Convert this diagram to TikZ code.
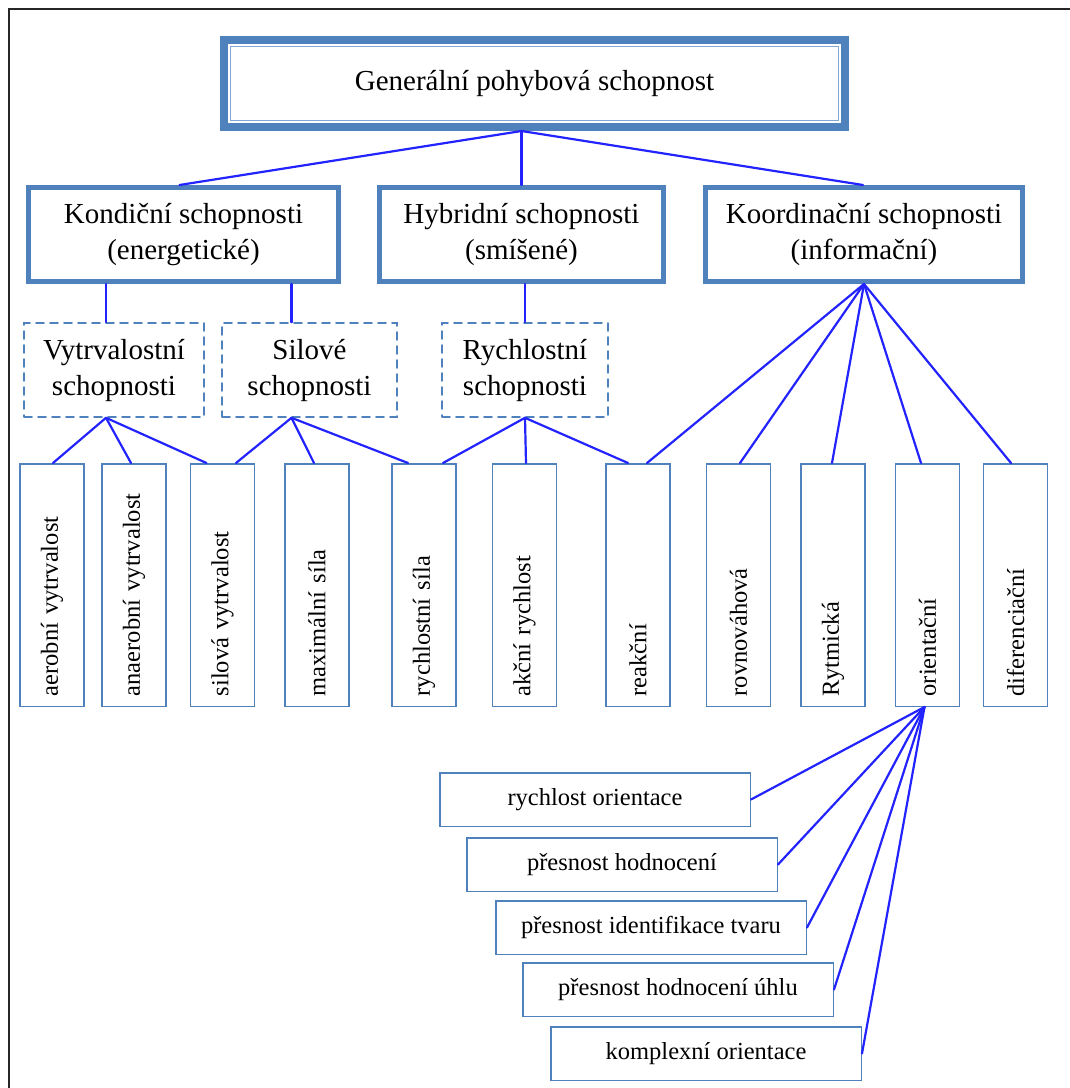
\documentclass[tikz,border=0pt]{standalone}
\usepackage{fontspec}
\setmainfont{Liberation Serif}

\newcommand{\boxfont}{\fontsize{29}{36}\selectfont}
\newcommand{\smallboxfont}{\fontsize{24.5}{30}\selectfont}

\begin{document}
\begin{tikzpicture}
			[x=1pt,y=-1pt,line cap=round,
			%Styles
			main box/.style={draw=boxblue,line width=8pt,minimum width=621pt,minimum height=87pt,inner sep=0pt,font=\boxfont},
			group box/.style={draw=boxblue,line width=5pt,minimum height=94pt,align=center,inner sep=0pt,font=\boxfont},
			ability box/.style={draw=boxblue,line width=1.6pt,dash pattern=on 8pt off 6pt,minimum height=94pt,align=center,inner sep=0pt,font=\boxfont},
			item box/.style={draw=boxblue,line width=1.5pt,rotate=90,minimum height=64pt,text width=222.5pt,inner xsep=10pt,inner ysep=0pt,align=left,font=\smallboxfont},
			detail box/.style={draw=boxblue,line width=1.5pt,minimum width=310.5pt,minimum height=53.5pt,inner sep=0pt,font=\smallboxfont},
			link/.style={draw=linkblue,line width=2.2pt}
			]
			
			%Colors
			\definecolor{boxblue}{RGB}{79,129,189}	%box frames
			\definecolor{linkblue}{RGB}{35,35,255}	%connectors
			
			\useasboundingbox (0,0) rectangle (1070,1088);
			\draw[line width=2.5pt,black!85,line cap=butt] (1070,9) -- (9,9) -- (9,1088);
			
			%The graphic
			\node[main box] (gen) at (534.5,83.5) {Generální pohybová schopnost};
			\draw[boxblue!70,line width=1.6pt] ([shift={(10.5pt,-10.5pt)}]gen.north west) rectangle ([shift={(-10.5pt,10.5pt)}]gen.south east);
			
			\node[group box,minimum width=310pt] (kond) at (183.5,234.5) {Kondiční schopnosti\\(energetické)};
			\node[group box,minimum width=284pt] (hybr) at (521.5,234.5) {Hybridní schopnosti\\(smíšené)};
			\node[group box,minimum width=317pt] (koord) at (864,234.5) {Koordinační schopnosti\\(informační)};
			
			\node[ability box,minimum width=180pt] (vytr) at (114,370) {Vytrvalostní\\schopnosti};
			\node[ability box,minimum width=175pt] (sil) at (309.5,370) {Silové\\schopnosti};
			\node[ability box,minimum width=166pt] (rychl) at (525,370) {Rychlostní\\schopnosti};
			
			\node[item box] (aer) at (52,585) {aerobní vytrvalost};
			\node[item box] (anaer) at (134,585) {anaerobní vytrvalost};
			\node[item box] (silvytr) at (222.5,585) {silová vytrvalost};
			\node[item box] (maxsil) at (317,585) {maximální síla};
			\node[item box] (rychlsil) at (424,585) {rychlostní síla};
			\node[item box] (akcni) at (524.5,585) {akční rychlost};
			\node[item box] (reakcni) at (638,585) {reakční};
			\node[item box] (rovn) at (738.5,585) {rovnováhová};
			\node[item box] (rytm) at (833,585) {Rytmická};
			\node[item box] (orient) at (927.5,585) {orientační};
			\node[item box] (difer) at (1015.5,585) {diferenciační};
			
			\node[detail box] (ro) at (595,799.5) {rychlost orientace};
			\node[detail box] (ph) at (622,864.5) {přesnost hodnocení};
			\node[detail box] (pit) at (651,927.5) {přesnost identifikace tvaru};
			\node[detail box] (phu) at (678,989.5) {přesnost hodnocení úhlu};
			\node[detail box] (ko) at (706,1053.5) {komplexní orientace};
			
			%Connectors
			\foreach \b/\dx in {kond/-4,hybr/0,koord/-1}
				\draw[link] ([xshift=-13pt]gen.south) -- ([xshift=\dx pt]\b.north);
			
			\draw[link] ([xshift=-8pt]vytr.north) -- ([xshift=-8pt]vytr.north |- kond.south);
			\draw[link] ([xshift=-18pt]sil.north) -- ([xshift=-18pt]sil.north |- kond.south);
			\draw[link] (rychl.north) -- (rychl.north |- hybr.south);
			
			\foreach \b/\dx in {aer/1,anaer/-3,silvytr/-16}
				\draw[link] ([xshift=-8pt]vytr.south) -- ([xshift=\dx pt]\b.east);
			\foreach \b/\dx in {silvytr/13.5,maxsil/-3,rychlsil/-16}
				\draw[link] ([xshift=-18pt]sil.south) -- ([xshift=\dx pt]\b.east);
			\foreach \b/\dx in {rychlsil/19,akcni/1.5,reakcni/-10}
				\draw[link] (rychl.south) -- ([xshift=\dx pt]\b.east);
			\foreach \b/\dx in {reakcni/9,rovn/1.5,rytm/-1,orient/-6.5,difer/-4.5}
				\draw[link] (koord.south) -- ([xshift=\dx pt]\b.east);
			\foreach \b in {ro,ph,pit,phu,ko}
				\draw[link] ([xshift=-3pt]orient.west) -- (\b.east);
		\end{tikzpicture}
\end{document}
